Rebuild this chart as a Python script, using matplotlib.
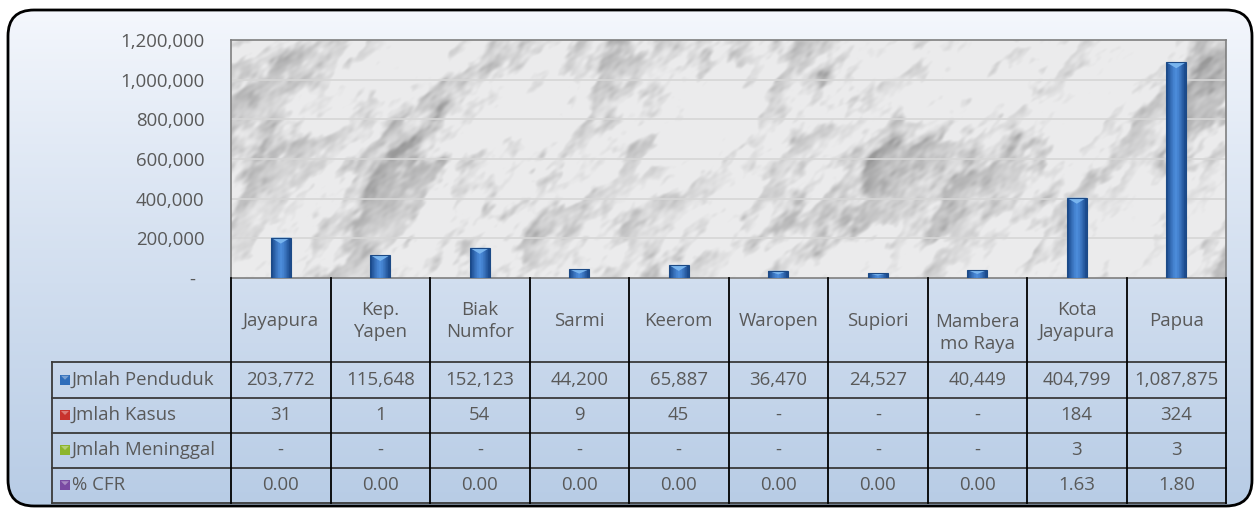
import numpy as np
import matplotlib
matplotlib.use("Agg")
import matplotlib.pyplot as plt
from matplotlib.patches import FancyBboxPatch, Polygon, Rectangle
from matplotlib.ticker import FuncFormatter

plt.rcParams['font.family'] = ['Open Sans', 'DejaVu Sans']

categories = ["Jayapura", "Kep.\nYapen", "Biak\nNumfor", "Sarmi", "Keerom", "Waropen",
              "Supiori", "Mambera\nmo Raya", "Kota\nJayapura", "Papua"]
penduduk = [203772, 115648, 152123, 44200, 65887, 36470, 24527, 40449, 404799, 1087875]
kasus = ["31", "1", "54", "9", "45", "-", "-", "-", "184", "324"]
meninggal = ["-", "-", "-", "-", "-", "-", "-", "-", "3", "3"]
cfr = ["0.00", "0.00", "0.00", "0.00", "0.00", "0.00", "0.00", "0.00", "1.63", "1.80"]
series_names = ["Jmlah Penduduk", "Jmlah Kasus", "Jmlah Meninggal", "% CFR"]
series_colors = ["#2F6DBA", "#C8322E", "#8DB52C", "#7A4AA2"]
yticks = [0, 200000, 400000, 600000, 800000, 1000000, 1200000]

FS = 13.4
W, H = 1260, 509
fig = plt.figure(figsize=(W / 100, H / 100), dpi=100)

# background axes in pixel coordinates
bg = fig.add_axes([0, 0, 1, 1])
bg.set_xlim(0, W)
bg.set_ylim(H, 0)
bg.axis('off')

box = FancyBboxPatch((8, 10), 1244, 496, boxstyle="round,pad=0,rounding_size=26",
                     facecolor='none', edgecolor='black', linewidth=2, zorder=3)
bg.add_patch(box)
grad = np.linspace(0, 1, 256)[:, None]
top = np.array([0.96, 0.97, 0.99])
bot = np.array([0.72, 0.80, 0.90])
gimg = top + (bot - top) * grad[..., None] ** 0.9
gimg = np.repeat(gimg, 2, axis=1)
im = bg.imshow(gimg, extent=(8, 1252, 506, 10), aspect='auto', zorder=1)
im.set_clip_path(box)

# plot axes
x0, x1, ytop, ybot = 231, 1226, 40, 278
ax = fig.add_axes([x0 / W, 1 - ybot / H, (x1 - x0) / W, (ybot - ytop) / H])
ax.set_xlim(-0.5, len(categories) - 0.5)
ax.set_ylim(0, 1200000)

# marble texture: deterministic sum of waves, stretched along "/" diagonal
nx, ny = 800, 200
xx, yy = np.meshgrid(np.linspace(0, 41.8, nx), np.linspace(0, 10, ny))
along = (xx - yy) / 1.414 * 0.45
across = (xx + yy) / 1.414
noise = np.zeros_like(xx)
fine = np.zeros_like(xx)
for k in range(70):
    a = k * 2.39996
    f = 0.9 * 1.055 ** k
    w = np.cos(f * (along * np.cos(a) + across * np.sin(a)) + k * 1.618)
    noise += w / f
    if k > 30:
        fine += w / f ** 0.5
noise = (noise - noise.mean()) / noise.std()
fine = (fine - fine.mean()) / fine.std()
warp = np.sin(across * 1.3 + 1.4 * noise)
dark = np.clip(0.45 * noise + 0.5 * warp ** 6 + 0.2 * fine, 0, None)
val = 0.925 - 0.16 * dark
tex = np.clip(np.dstack([val, val, val * 1.004]), 0.6, 1)
ax.imshow(tex, extent=(-0.5, len(categories) - 0.5, 0, 1200000), aspect='auto',
          interpolation='bicubic', zorder=0)

for t in yticks[1:-1]:
    ax.axhline(t, color='#D6D6D6', linewidth=1.2, zorder=1)

xs = np.arange(len(categories))
bw = 0.2
bars = ax.bar(xs, penduduk, width=bw, color='#2F6DBA', edgecolor='#1C4A86', linewidth=0.8, zorder=3)
cyl = np.array([0.0, 0.3, 0.6, 0.85, 1.0, 0.85, 0.6, 0.3, 0.0])[None, :]
c_dark = np.array([0.11, 0.30, 0.56])
c_light = np.array([0.30, 0.55, 0.86])
cimg = c_dark + (c_light - c_dark) * cyl[..., None]
cap_h = 1200000 / 238 * 6
for b, val_ in zip(bars, penduduk):
    bx = b.get_x()
    ax.add_patch(Rectangle((bx + bw * 0.12, -9000), bw, 9000, facecolor='#9a9a9a',
                           alpha=0.35, edgecolor='none', zorder=2))
    cimg_im = ax.imshow(cimg, extent=(bx, bx + bw, 0, val_), aspect='auto', zorder=3.5)
    cimg_im.set_clip_path(b)
    h = min(cap_h, val_ * 0.5)
    ax.add_patch(Polygon([(bx, val_), (bx + bw, val_), (bx + bw / 2, val_ - h)], closed=True,
                         facecolor='#78B4EE', edgecolor='none', zorder=4))
    ax.add_patch(Rectangle((bx, val_ - h * 0.15), bw, h * 0.15, facecolor='#9CCBF5',
                           edgecolor='none', zorder=4))
    b.set_zorder(4.5)
    b.set_facecolor('none')

ax.set_yticks(yticks)
ax.yaxis.set_major_formatter(FuncFormatter(lambda v, p: "-" if v == 0 else f"{int(v):,}"))
ax.tick_params(axis='y', length=0, pad=19, labelsize=FS, labelcolor='#595959')
for lab in ax.get_yticklabels():
    if lab.get_text() == "-":
        lab.set_x(-0.009)
ax.set_xticks([])
for s in ax.spines.values():
    s.set_color('#7F7F7F')
    s.set_linewidth(1.2)

# data table
ty0, ty1 = 278, 503
tax = fig.add_axes([x0 / W, 1 - ty1 / H, (x1 - x0) / W, (ty1 - ty0) / H])
tax.set_xlim(-0.5, len(categories) - 0.5)
tax.set_ylim(ty1, ty0)
tax.axis('off')
rows = [362, 397.5, 432.5, 467.5, 503]
row_vals = [[f"{v:,}" for v in penduduk], kasus, meninggal, cfr]
txt = dict(ha='center', va='center', fontsize=FS, color='#595959')
for i, c in enumerate(categories):
    cy = 333 if c.startswith("Mambera") else 321
    tax.text(i, cy, c, linespacing=1.3, **txt)
    for r, vals in enumerate(row_vals):
        tax.text(i, (rows[r] + rows[r + 1]) / 2, vals[i], **txt)
for i in range(len(categories) + 1):
    tax.plot([i - 0.5, i - 0.5], [ty0, ty1], color='black', linewidth=1.3, clip_on=False)

for y in rows:
    bg.plot([52, x1], [y, y], color='#3A3A3A', linewidth=1.3, zorder=5)
bg.plot([52, 52], [rows[0], rows[-1]], color='#3A3A3A', linewidth=1.3, zorder=5)
for r, (name, col) in enumerate(zip(series_names, series_colors)):
    cy = (rows[r] + rows[r + 1]) / 2
    bg.add_patch(Rectangle((60, cy - 5), 10, 10, facecolor=col, edgecolor='none', zorder=6))
    bg.add_patch(Polygon([(61, cy - 4), (69, cy - 4), (65, cy)], closed=True,
                         facecolor='white', alpha=0.35, edgecolor='none', zorder=7))
    bg.text(72, cy, name, ha='left', va='center', fontsize=FS, color='#595959', zorder=6)

fig.savefig("out.png", dpi=100)
